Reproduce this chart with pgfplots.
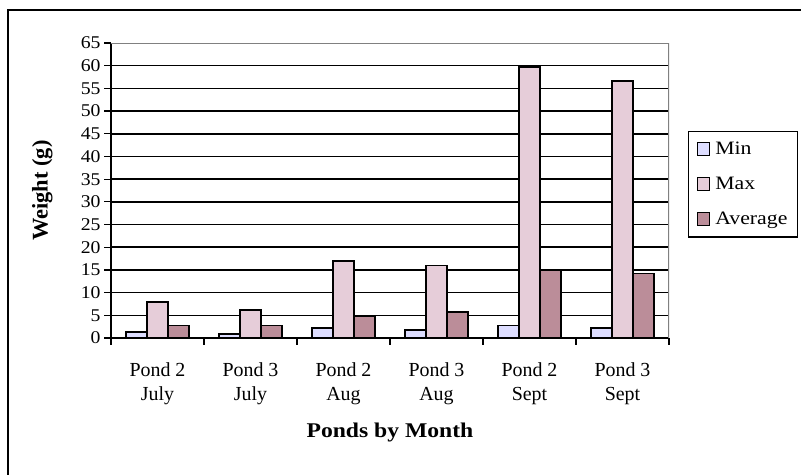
\documentclass[border=0pt]{standalone}
\usepackage{fontspec}
\setmainfont{Liberation Serif}
\newfontfamily\wide{Liberation Serif}[FakeStretch=1.1]
\newfontfamily\wider{Liberation Serif}[FakeStretch=1.15]
\newfontfamily\titlefont{Liberation Serif}[FakeStretch=1.13]
\usepackage{pgfplots}
\pgfplotsset{compat=1.18}
\definecolor{cmin}{RGB}{221,221,255}
\definecolor{cmax}{RGB}{230,205,217}
\definecolor{cavg}{RGB}{187,141,153}
\begin{document}
\begin{tikzpicture}
\useasboundingbox (0,0) rectangle (801bp,475bp);
\draw[line width=2bp] (8bp,0) -- (8bp,465bp) -- (801bp,465bp);
\begin{axis}[
  at={(111bp,137bp)}, anchor=south west,
  scale only axis, width=558bp, height=295bp,
  xmin=-0.5, xmax=5.5, ymin=0, ymax=65,
  ybar=0pt, bar width=21bp,
  axis x line*=bottom, axis y line*=left,
  axis line style={black, line width=1.5bp},
  /pgf/number format/assume math mode=true,
  ytick={0,5,...,60}, extra y ticks={65}, extra y tick style={grid=none},
  ymajorgrids, grid style={black, line width=1.5bp},
  tick align=outside, major tick length=7bp,
  tick style={black, line width=1.2bp},
  xtick={-0.5,0.5,...,5.5},
  x tick label as interval,
  xticklabels={{Pond 2\\July},{Pond 3\\July},{Pond 2\\Aug},{Pond 3\\Aug},{Pond 2\\Sept},{Pond 3\\Sept}},
  xticklabel style={align=center, font=\fontsize{20}{24}\selectfont, yshift=-14bp},
  yticklabel style={font=\wide\fontsize{18}{18}\selectfont},
  xlabel={\textbf{Ponds by Month}},
  xlabel style={font=\titlefont\fontsize{21}{24}\selectfont, at={(axis description cs:0.5,-0.319)}, anchor=center},
  ylabel={\textbf{Weight (g)}},
  ylabel style={font=\fontsize{22.5}{24}\selectfont, at={(axis description cs:-0.123,0.5)}, anchor=center},
  legend style={at={(rel axis cs:1.034,0.703)}, anchor=north west, draw=black, line width=1.5bp,
    font=\wider\fontsize{19}{21}\selectfont, row sep=17bp, inner xsep=8bp, inner ysep=9bp,
    cells={anchor=west}},
  legend image code/.code={\draw[#1, draw=black, line width=1.2bp] (0bp,-6bp) rectangle (12bp,7bp); \path[draw=none, fill=none] (0bp,0bp) -- (16bp,0bp);},
  every axis plot/.append style={draw=black, line width=1.5bp},
]
\addplot[fill=cmin] coordinates {(0,1.3) (1,0.9) (2,2.2) (3,1.8) (4,2.7) (5,2.2)};
\addplot[fill=cmax] coordinates {(0,7.9) (1,6.2) (2,17.0) (3,16.0) (4,59.7) (5,56.6)};
\addplot[fill=cavg] coordinates {(0,2.7) (1,2.7) (2,4.8) (3,5.7) (4,15.0) (5,14.2)};
\legend{Min,Max,Average}
\draw[gray, line width=1.2bp] (rel axis cs:0,1) -- (rel axis cs:1,1) -- (rel axis cs:1,0);
\end{axis}
\end{tikzpicture}
\end{document}
